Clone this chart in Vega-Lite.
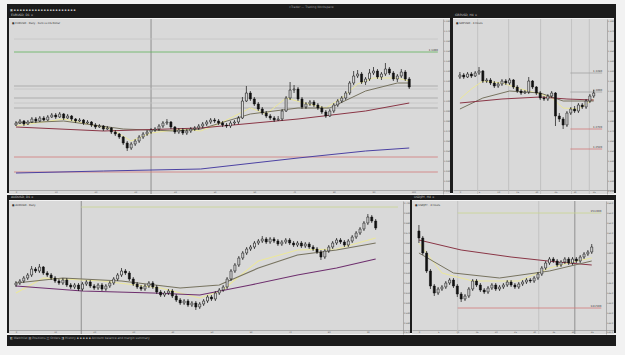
{
"$schema": "https://vega.github.io/schema/vega-lite/v6.json",
"background": "#f2f2f2",
"padding": {"left": 7, "top": 4, "right": 9, "bottom": 13},
"spacing": 0,
"config": {
  "font": "DejaVu Sans",
  "view": {"stroke": null},
  "legend": {"disable": true},
  "concat": {"spacing": 0},
  "axis": {"grid": false, "ticks": false, "labelFontSize": 2.2, "labelColor": "#555555", "domainColor": "#8c8c8c", "domainWidth": 0.6, "labelPadding": 0.5, "labelFlush": true},
  "axisX": {"offset": -4},
  "title": {"fontWeight": "normal"}
},
"datasets": {
  "c1": [
{"t":0,"o":1.076,"h":1.080,"l":1.075,"c":1.078},{"t":1,"o":1.078,"h":1.082,"l":1.077,"c":1.080},{"t":2,"o":1.080,"h":1.081,"l":1.075,"c":1.077},{"t":3,"o":1.077,"h":1.081,"l":1.076,"c":1.079},{"t":4,"o":1.079,"h":1.084,"l":1.078,"c":1.082},{"t":5,"o":1.082,"h":1.084,"l":1.078,"c":1.080},{"t":6,"o":1.080,"h":1.085,"l":1.079,"c":1.083},{"t":7,"o":1.083,"h":1.085,"l":1.080,"c":1.081},{"t":8,"o":1.081,"h":1.086,"l":1.080,"c":1.084},{"t":9,"o":1.084,"h":1.088,"l":1.083,"c":1.086},
{"t":10,"o":1.086,"h":1.088,"l":1.082,"c":1.084},{"t":11,"o":1.084,"h":1.089,"l":1.083,"c":1.087},{"t":12,"o":1.087,"h":1.088,"l":1.081,"c":1.083},{"t":13,"o":1.083,"h":1.087,"l":1.082,"c":1.085},{"t":14,"o":1.085,"h":1.086,"l":1.080,"c":1.082},{"t":15,"o":1.082,"h":1.083,"l":1.078,"c":1.080},{"t":16,"o":1.080,"h":1.083,"l":1.079,"c":1.081},{"t":17,"o":1.081,"h":1.082,"l":1.076,"c":1.078},{"t":18,"o":1.078,"h":1.081,"l":1.077,"c":1.079},{"t":19,"o":1.079,"h":1.080,"l":1.074,"c":1.076},
{"t":20,"o":1.076,"h":1.078,"l":1.072,"c":1.074},{"t":21,"o":1.074,"h":1.077,"l":1.073,"c":1.075},{"t":22,"o":1.075,"h":1.076,"l":1.070,"c":1.072},{"t":23,"o":1.072,"h":1.075,"l":1.071,"c":1.073},{"t":24,"o":1.073,"h":1.074,"l":1.067,"c":1.069},{"t":25,"o":1.069,"h":1.071,"l":1.065,"c":1.067},{"t":26,"o":1.067,"h":1.068,"l":1.062,"c":1.064},{"t":27,"o":1.064,"h":1.065,"l":1.056,"c":1.058},{"t":28,"o":1.058,"h":1.060,"l":1.050,"c":1.053},{"t":29,"o":1.053,"h":1.059,"l":1.051,"c":1.057},
{"t":30,"o":1.057,"h":1.062,"l":1.055,"c":1.060},{"t":31,"o":1.060,"h":1.066,"l":1.058,"c":1.064},{"t":32,"o":1.064,"h":1.069,"l":1.062,"c":1.067},{"t":33,"o":1.067,"h":1.071,"l":1.065,"c":1.069},{"t":34,"o":1.069,"h":1.073,"l":1.067,"c":1.071},{"t":35,"o":1.071,"h":1.074,"l":1.069,"c":1.072},{"t":36,"o":1.072,"h":1.077,"l":1.070,"c":1.075},{"t":37,"o":1.075,"h":1.080,"l":1.073,"c":1.078},{"t":38,"o":1.078,"h":1.082,"l":1.076,"c":1.079},{"t":39,"o":1.079,"h":1.080,"l":1.072,"c":1.074},
{"t":40,"o":1.074,"h":1.075,"l":1.067,"c":1.069},{"t":41,"o":1.069,"h":1.073,"l":1.067,"c":1.071},{"t":42,"o":1.071,"h":1.073,"l":1.066,"c":1.068},{"t":43,"o":1.068,"h":1.072,"l":1.066,"c":1.070},{"t":44,"o":1.070,"h":1.074,"l":1.068,"c":1.072},{"t":45,"o":1.072,"h":1.075,"l":1.070,"c":1.073},{"t":46,"o":1.073,"h":1.077,"l":1.071,"c":1.075},{"t":47,"o":1.075,"h":1.079,"l":1.073,"c":1.077},{"t":48,"o":1.077,"h":1.081,"l":1.075,"c":1.079},{"t":49,"o":1.079,"h":1.083,"l":1.077,"c":1.081},
{"t":50,"o":1.081,"h":1.083,"l":1.078,"c":1.080},{"t":51,"o":1.080,"h":1.082,"l":1.076,"c":1.078},{"t":52,"o":1.078,"h":1.080,"l":1.074,"c":1.076},{"t":53,"o":1.076,"h":1.078,"l":1.073,"c":1.075},{"t":54,"o":1.075,"h":1.080,"l":1.073,"c":1.078},{"t":55,"o":1.078,"h":1.081,"l":1.076,"c":1.079},{"t":56,"o":1.079,"h":1.085,"l":1.077,"c":1.083},{"t":57,"o":1.083,"h":1.104,"l":1.082,"c":1.100},{"t":58,"o":1.100,"h":1.115,"l":1.099,"c":1.108},{"t":59,"o":1.108,"h":1.110,"l":1.100,"c":1.102},
{"t":60,"o":1.102,"h":1.104,"l":1.095,"c":1.097},{"t":61,"o":1.097,"h":1.099,"l":1.090,"c":1.092},{"t":62,"o":1.092,"h":1.094,"l":1.086,"c":1.088},{"t":63,"o":1.088,"h":1.090,"l":1.083,"c":1.085},{"t":64,"o":1.085,"h":1.087,"l":1.081,"c":1.083},{"t":65,"o":1.083,"h":1.085,"l":1.079,"c":1.081},{"t":66,"o":1.081,"h":1.085,"l":1.080,"c":1.082},{"t":67,"o":1.082,"h":1.092,"l":1.080,"c":1.090},{"t":68,"o":1.090,"h":1.105,"l":1.089,"c":1.103},{"t":69,"o":1.103,"h":1.119,"l":1.101,"c":1.111},
{"t":70,"o":1.111,"h":1.116,"l":1.108,"c":1.112},{"t":71,"o":1.112,"h":1.114,"l":1.100,"c":1.102},{"t":72,"o":1.102,"h":1.104,"l":1.092,"c":1.094},{"t":73,"o":1.094,"h":1.099,"l":1.092,"c":1.097},{"t":74,"o":1.097,"h":1.101,"l":1.095,"c":1.099},{"t":75,"o":1.099,"h":1.101,"l":1.094,"c":1.096},{"t":76,"o":1.096,"h":1.098,"l":1.091,"c":1.093},{"t":77,"o":1.093,"h":1.095,"l":1.087,"c":1.089},{"t":78,"o":1.089,"h":1.091,"l":1.083,"c":1.085},{"t":79,"o":1.085,"h":1.092,"l":1.084,"c":1.090},
{"t":80,"o":1.090,"h":1.098,"l":1.088,"c":1.096},{"t":81,"o":1.096,"h":1.102,"l":1.094,"c":1.100},{"t":82,"o":1.100,"h":1.105,"l":1.098,"c":1.103},{"t":83,"o":1.103,"h":1.110,"l":1.101,"c":1.108},{"t":84,"o":1.108,"h":1.120,"l":1.106,"c":1.118},{"t":85,"o":1.118,"h":1.130,"l":1.116,"c":1.125},{"t":86,"o":1.125,"h":1.131,"l":1.123,"c":1.127},{"t":87,"o":1.127,"h":1.129,"l":1.117,"c":1.119},{"t":88,"o":1.119,"h":1.124,"l":1.116,"c":1.122},{"t":89,"o":1.122,"h":1.132,"l":1.120,"c":1.128},
{"t":90,"o":1.128,"h":1.134,"l":1.126,"c":1.130},{"t":91,"o":1.130,"h":1.132,"l":1.122,"c":1.124},{"t":92,"o":1.124,"h":1.129,"l":1.121,"c":1.127},{"t":93,"o":1.127,"h":1.138,"l":1.125,"c":1.132},{"t":94,"o":1.132,"h":1.134,"l":1.126,"c":1.128},{"t":95,"o":1.128,"h":1.130,"l":1.120,"c":1.122},{"t":96,"o":1.122,"h":1.127,"l":1.119,"c":1.125},{"t":97,"o":1.125,"h":1.132,"l":1.123,"c":1.129},{"t":98,"o":1.129,"h":1.131,"l":1.120,"c":1.122},{"t":99,"o":1.122,"h":1.124,"l":1.112,"c":1.114}
  ],
  "m1": [
{"t":0,"p":1.075,"ma":"fast"},{"t":12,"p":1.082,"ma":"fast"},{"t":24,"p":1.072,"ma":"fast"},{"t":29,"p":1.060,"ma":"fast"},{"t":34,"p":1.068,"ma":"fast"},{"t":42,"p":1.072,"ma":"fast"},{"t":46.5,"p":1.070,"ma":"fast"},{"t":51,"p":1.077,"ma":"fast"},{"t":59,"p":1.093,"ma":"fast"},{"t":63,"p":1.087,"ma":"fast"},{"t":68,"p":1.103,"ma":"fast"},{"t":73.5,"p":1.097,"ma":"fast"},{"t":78,"p":1.093,"ma":"fast"},{"t":82,"p":1.103,"ma":"fast"},{"t":86,"p":1.117,"ma":"fast"},{"t":90,"p":1.123,"ma":"fast"},{"t":96,"p":1.123,"ma":"fast"},{"t":99,"p":1.120,"ma":"fast"},
{"t":0,"p":1.078,"ma":"mid"},{"t":12,"p":1.080,"ma":"mid"},{"t":27,"p":1.072,"ma":"mid"},{"t":40,"p":1.070,"ma":"mid"},{"t":46.5,"p":1.072,"ma":"mid"},{"t":59,"p":1.087,"ma":"mid"},{"t":71,"p":1.093,"ma":"mid"},{"t":79,"p":1.093,"ma":"mid"},{"t":88,"p":1.110,"ma":"mid"},{"t":96,"p":1.118,"ma":"mid"},{"t":99,"p":1.118,"ma":"mid"},
{"t":0,"p":1.074,"ma":"slow"},{"t":22,"p":1.070,"ma":"slow"},{"t":46.5,"p":1.073,"ma":"slow"},{"t":71,"p":1.082,"ma":"slow"},{"t":88,"p":1.090,"ma":"slow"},{"t":99,"p":1.098,"ma":"slow"},
{"t":0,"p":1.028,"ma":"long"},{"t":22,"p":1.030,"ma":"long"},{"t":46.5,"p":1.032,"ma":"long"},{"t":71,"p":1.043,"ma":"long"},{"t":88,"p":1.050,"ma":"long"},{"t":99,"p":1.053,"ma":"long"}
  ],
  "h1": [
{"p":1.162,"a":-0.5,"b":106.2,"k":"light","lab":false},{"p":1.149,"a":-0.5,"b":106.2,"k":"green","lab":true},{"p":1.115,"a":-0.5,"b":106.2,"k":"level","lab":false},{"p":1.112,"a":-0.5,"b":106.2,"k":"light","lab":false},{"p":1.103,"a":-0.5,"b":106.2,"k":"level","lab":false},{"p":1.098,"a":-0.5,"b":106.2,"k":"light","lab":false},{"p":1.093,"a":-0.5,"b":106.2,"k":"level","lab":false},{"p":1.044,"a":-0.5,"b":106.2,"k":"red","lab":false},{"p":1.029,"a":-0.5,"b":106.2,"k":"red","lab":false}
  ],
  "v1": [{"t":34,"k":"vdark"}],
  "c2": [
{"t":0,"o":1.324,"h":1.329,"l":1.322,"c":1.326},{"t":1,"o":1.326,"h":1.328,"l":1.322,"c":1.324},{"t":2,"o":1.324,"h":1.329,"l":1.323,"c":1.327},{"t":3,"o":1.327,"h":1.329,"l":1.323,"c":1.325},{"t":4,"o":1.325,"h":1.330,"l":1.324,"c":1.328},{"t":5,"o":1.328,"h":1.334,"l":1.326,"c":1.330},{"t":6,"o":1.330,"h":1.331,"l":1.318,"c":1.320},{"t":7,"o":1.320,"h":1.323,"l":1.318,"c":1.321},{"t":8,"o":1.321,"h":1.323,"l":1.316,"c":1.318},{"t":9,"o":1.318,"h":1.320,"l":1.313,"c":1.315},
{"t":10,"o":1.315,"h":1.319,"l":1.313,"c":1.317},{"t":11,"o":1.317,"h":1.322,"l":1.315,"c":1.320},{"t":12,"o":1.320,"h":1.322,"l":1.316,"c":1.318},{"t":13,"o":1.318,"h":1.323,"l":1.316,"c":1.321},{"t":14,"o":1.321,"h":1.322,"l":1.312,"c":1.314},{"t":15,"o":1.314,"h":1.316,"l":1.308,"c":1.310},{"t":16,"o":1.310,"h":1.312,"l":1.306,"c":1.308},{"t":17,"o":1.308,"h":1.311,"l":1.307,"c":1.309},{"t":18,"o":1.309,"h":1.324,"l":1.307,"c":1.320},{"t":19,"o":1.320,"h":1.321,"l":1.312,"c":1.314},
{"t":20,"o":1.314,"h":1.315,"l":1.306,"c":1.308},{"t":21,"o":1.308,"h":1.310,"l":1.301,"c":1.303},{"t":22,"o":1.303,"h":1.305,"l":1.300,"c":1.302},{"t":23,"o":1.302,"h":1.307,"l":1.300,"c":1.305},{"t":24,"o":1.305,"h":1.310,"l":1.303,"c":1.308},{"t":25,"o":1.308,"h":1.309,"l":1.275,"c":1.285},{"t":26,"o":1.285,"h":1.288,"l":1.279,"c":1.282},{"t":27,"o":1.282,"h":1.284,"l":1.272,"c":1.276},{"t":28,"o":1.276,"h":1.290,"l":1.274,"c":1.288},{"t":29,"o":1.288,"h":1.294,"l":1.286,"c":1.292},
{"t":30,"o":1.292,"h":1.295,"l":1.288,"c":1.290},{"t":31,"o":1.290,"h":1.298,"l":1.288,"c":1.296},{"t":32,"o":1.296,"h":1.298,"l":1.292,"c":1.294},{"t":33,"o":1.294,"h":1.302,"l":1.292,"c":1.300},{"t":34,"o":1.300,"h":1.307,"l":1.298,"c":1.305},{"t":35,"o":1.305,"h":1.311,"l":1.303,"c":1.308}
  ],
  "m2": [
{"t":0,"p":1.302,"ma":"fast"},{"t":3,"p":1.312,"ma":"fast"},{"t":6,"p":1.320,"ma":"fast"},{"t":11,"p":1.318,"ma":"fast"},{"t":16,"p":1.312,"ma":"fast"},{"t":21,"p":1.307,"ma":"fast"},{"t":24,"p":1.303,"ma":"fast"},{"t":27,"p":1.293,"ma":"fast"},{"t":31,"p":1.292,"ma":"fast"},{"t":35,"p":1.302,"ma":"fast"},
{"t":0,"p":1.292,"ma":"mid"},{"t":6,"p":1.303,"ma":"mid"},{"t":13,"p":1.310,"ma":"mid"},{"t":21,"p":1.308,"ma":"mid"},{"t":27,"p":1.300,"ma":"mid"},{"t":35,"p":1.300,"ma":"mid"},
{"t":0,"p":1.298,"ma":"slow"},{"t":11,"p":1.302,"ma":"slow"},{"t":21,"p":1.304,"ma":"slow"},{"t":28,"p":1.302,"ma":"slow"},{"t":35,"p":1.301,"ma":"slow"}
  ],
  "h2": [
{"p":1.328,"a":28.9,"b":37.2,"k":"level","lab":true},{"p":1.309,"a":28.9,"b":37.2,"k":"level","lab":true},{"p":1.272,"a":28.9,"b":37.2,"k":"red","lab":true},{"p":1.252,"a":28.9,"b":37.2,"k":"red","lab":true}
  ],
  "v2": [{"t":4.65,"k":"vlight"},{"t":12.75,"k":"vlight"},{"t":21.1,"k":"vlight"},{"t":29.2,"k":"vlight"},{"t":33.85,"k":"vlight"}],
  "c3": [
{"t":0,"o":0.618,"h":0.622,"l":0.616,"c":0.620},{"t":1,"o":0.620,"h":0.624,"l":0.618,"c":0.622},{"t":2,"o":0.622,"h":0.627,"l":0.620,"c":0.625},{"t":3,"o":0.625,"h":0.630,"l":0.623,"c":0.628},{"t":4,"o":0.628,"h":0.637,"l":0.626,"c":0.634},{"t":5,"o":0.634,"h":0.636,"l":0.630,"c":0.632},{"t":6,"o":0.632,"h":0.639,"l":0.630,"c":0.636},{"t":7,"o":0.636,"h":0.637,"l":0.628,"c":0.630},{"t":8,"o":0.630,"h":0.632,"l":0.626,"c":0.628},{"t":9,"o":0.628,"h":0.630,"l":0.623,"c":0.625},
{"t":10,"o":0.625,"h":0.627,"l":0.620,"c":0.622},{"t":11,"o":0.622,"h":0.624,"l":0.618,"c":0.620},{"t":12,"o":0.620,"h":0.625,"l":0.618,"c":0.623},{"t":13,"o":0.623,"h":0.625,"l":0.616,"c":0.618},{"t":14,"o":0.618,"h":0.620,"l":0.614,"c":0.616},{"t":15,"o":0.616,"h":0.620,"l":0.614,"c":0.618},{"t":16,"o":0.618,"h":0.620,"l":0.612,"c":0.614},{"t":17,"o":0.614,"h":0.621,"l":0.612,"c":0.619},{"t":18,"o":0.619,"h":0.623,"l":0.617,"c":0.621},{"t":19,"o":0.621,"h":0.623,"l":0.615,"c":0.617},
{"t":20,"o":0.617,"h":0.619,"l":0.613,"c":0.615},{"t":21,"o":0.615,"h":0.620,"l":0.613,"c":0.618},{"t":22,"o":0.618,"h":0.620,"l":0.612,"c":0.614},{"t":23,"o":0.614,"h":0.619,"l":0.612,"c":0.617},{"t":24,"o":0.617,"h":0.622,"l":0.615,"c":0.620},{"t":25,"o":0.620,"h":0.626,"l":0.618,"c":0.624},{"t":26,"o":0.624,"h":0.630,"l":0.622,"c":0.628},{"t":27,"o":0.628,"h":0.635,"l":0.626,"c":0.632},{"t":28,"o":0.632,"h":0.634,"l":0.628,"c":0.630},{"t":29,"o":0.630,"h":0.632,"l":0.622,"c":0.624},
{"t":30,"o":0.624,"h":0.626,"l":0.617,"c":0.619},{"t":31,"o":0.619,"h":0.621,"l":0.614,"c":0.616},{"t":32,"o":0.616,"h":0.618,"l":0.612,"c":0.614},{"t":33,"o":0.614,"h":0.619,"l":0.612,"c":0.617},{"t":34,"o":0.617,"h":0.622,"l":0.615,"c":0.620},{"t":35,"o":0.620,"h":0.622,"l":0.614,"c":0.616},{"t":36,"o":0.616,"h":0.618,"l":0.609,"c":0.611},{"t":37,"o":0.611,"h":0.613,"l":0.606,"c":0.608},{"t":38,"o":0.608,"h":0.612,"l":0.606,"c":0.610},{"t":39,"o":0.610,"h":0.614,"l":0.608,"c":0.612},
{"t":40,"o":0.612,"h":0.614,"l":0.605,"c":0.607},{"t":41,"o":0.607,"h":0.609,"l":0.601,"c":0.603},{"t":42,"o":0.603,"h":0.605,"l":0.598,"c":0.600},{"t":43,"o":0.600,"h":0.604,"l":0.598,"c":0.602},{"t":44,"o":0.602,"h":0.604,"l":0.596,"c":0.598},{"t":45,"o":0.598,"h":0.602,"l":0.596,"c":0.600},{"t":46,"o":0.600,"h":0.602,"l":0.593,"c":0.596},{"t":47,"o":0.596,"h":0.601,"l":0.594,"c":0.599},{"t":48,"o":0.599,"h":0.604,"l":0.597,"c":0.602},{"t":49,"o":0.602,"h":0.608,"l":0.600,"c":0.606},
{"t":50,"o":0.606,"h":0.608,"l":0.602,"c":0.604},{"t":51,"o":0.604,"h":0.612,"l":0.602,"c":0.610},{"t":52,"o":0.610,"h":0.615,"l":0.608,"c":0.613},{"t":53,"o":0.613,"h":0.618,"l":0.611,"c":0.616},{"t":54,"o":0.616,"h":0.626,"l":0.614,"c":0.624},{"t":55,"o":0.624,"h":0.634,"l":0.622,"c":0.632},{"t":56,"o":0.632,"h":0.640,"l":0.630,"c":0.638},{"t":57,"o":0.638,"h":0.647,"l":0.636,"c":0.645},{"t":58,"o":0.645,"h":0.652,"l":0.643,"c":0.650},{"t":59,"o":0.650,"h":0.656,"l":0.648,"c":0.654},
{"t":60,"o":0.654,"h":0.658,"l":0.652,"c":0.656},{"t":61,"o":0.656,"h":0.662,"l":0.654,"c":0.660},{"t":62,"o":0.660,"h":0.664,"l":0.658,"c":0.662},{"t":63,"o":0.662,"h":0.667,"l":0.660,"c":0.664},{"t":64,"o":0.664,"h":0.666,"l":0.659,"c":0.661},{"t":65,"o":0.661,"h":0.666,"l":0.659,"c":0.664},{"t":66,"o":0.664,"h":0.666,"l":0.660,"c":0.662},{"t":67,"o":0.662,"h":0.664,"l":0.657,"c":0.659},{"t":68,"o":0.659,"h":0.663,"l":0.657,"c":0.661},{"t":69,"o":0.661,"h":0.665,"l":0.659,"c":0.663},
{"t":70,"o":0.663,"h":0.665,"l":0.658,"c":0.660},{"t":71,"o":0.660,"h":0.662,"l":0.656,"c":0.658},{"t":72,"o":0.658,"h":0.662,"l":0.656,"c":0.660},{"t":73,"o":0.660,"h":0.662,"l":0.655,"c":0.657},{"t":74,"o":0.657,"h":0.661,"l":0.655,"c":0.659},{"t":75,"o":0.659,"h":0.661,"l":0.654,"c":0.656},{"t":76,"o":0.656,"h":0.658,"l":0.652,"c":0.654},{"t":77,"o":0.654,"h":0.656,"l":0.649,"c":0.651},{"t":78,"o":0.651,"h":0.653,"l":0.643,"c":0.646},{"t":79,"o":0.646,"h":0.654,"l":0.644,"c":0.652},
{"t":80,"o":0.652,"h":0.658,"l":0.650,"c":0.656},{"t":81,"o":0.656,"h":0.662,"l":0.654,"c":0.660},{"t":82,"o":0.660,"h":0.665,"l":0.658,"c":0.663},{"t":83,"o":0.663,"h":0.665,"l":0.659,"c":0.661},{"t":84,"o":0.661,"h":0.663,"l":0.656,"c":0.658},{"t":85,"o":0.658,"h":0.664,"l":0.656,"c":0.662},{"t":86,"o":0.662,"h":0.668,"l":0.660,"c":0.666},{"t":87,"o":0.666,"h":0.672,"l":0.664,"c":0.670},{"t":88,"o":0.670,"h":0.676,"l":0.668,"c":0.674},{"t":89,"o":0.674,"h":0.682,"l":0.672,"c":0.680},
{"t":90,"o":0.680,"h":0.689,"l":0.678,"c":0.686},{"t":91,"o":0.686,"h":0.688,"l":0.680,"c":0.682},{"t":92,"o":0.682,"h":0.684,"l":0.673,"c":0.675}
  ],
  "m3": [
{"t":0,"p":0.610,"ma":"fast"},{"t":7,"p":0.625,"ma":"fast"},{"t":22,"p":0.622,"ma":"fast"},{"t":37,"p":0.615,"ma":"fast"},{"t":47,"p":0.605,"ma":"fast"},{"t":53,"p":0.613,"ma":"fast"},{"t":55,"p":0.620,"ma":"fast"},{"t":62,"p":0.642,"ma":"fast"},{"t":72,"p":0.653,"ma":"fast"},{"t":82,"p":0.654,"ma":"fast"},{"t":92,"p":0.665,"ma":"fast"},
{"t":0,"p":0.620,"ma":"mid"},{"t":12,"p":0.625,"ma":"mid"},{"t":27,"p":0.622,"ma":"mid"},{"t":42,"p":0.615,"ma":"mid"},{"t":52,"p":0.618,"ma":"mid"},{"t":62,"p":0.635,"ma":"mid"},{"t":72,"p":0.648,"ma":"mid"},{"t":82,"p":0.653,"ma":"mid"},{"t":92,"p":0.660,"ma":"mid"},
{"t":0,"p":0.617,"ma":"plum"},{"t":17,"p":0.612,"ma":"plum"},{"t":35,"p":0.610,"ma":"plum"},{"t":47,"p":0.608,"ma":"plum"},{"t":60,"p":0.618,"ma":"plum"},{"t":72,"p":0.628,"ma":"plum"},{"t":82,"p":0.635,"ma":"plum"},{"t":92,"p":0.644,"ma":"plum"}
  ],
  "h3": [{"p":0.696,"a":16.7,"b":97.7,"k":"lime","lab":false}],
  "v3": [{"t":16.7,"k":"vdark"}],
  "c4": [
{"t":0,"o":151.2,"h":151.8,"l":150.0,"c":150.5},{"t":1,"o":150.5,"h":150.7,"l":148.8,"c":149.0},{"t":2,"o":149.0,"h":149.2,"l":147.0,"c":147.2},{"t":3,"o":147.2,"h":147.4,"l":145.4,"c":145.7},{"t":4,"o":145.7,"h":145.9,"l":144.7,"c":145.0},{"t":5,"o":145.0,"h":145.6,"l":144.8,"c":145.4},{"t":6,"o":145.4,"h":145.8,"l":145.2,"c":145.6},{"t":7,"o":145.6,"h":146.2,"l":145.4,"c":146.0},{"t":8,"o":146.0,"h":146.5,"l":145.8,"c":146.3},{"t":9,"o":146.3,"h":146.5,"l":145.5,"c":145.7},
{"t":10,"o":145.7,"h":145.9,"l":144.6,"c":144.9},{"t":11,"o":144.9,"h":145.1,"l":144.1,"c":144.4},{"t":12,"o":144.4,"h":144.9,"l":144.2,"c":144.7},{"t":13,"o":144.7,"h":145.6,"l":144.5,"c":145.4},{"t":14,"o":145.4,"h":146.4,"l":145.2,"c":146.2},{"t":15,"o":146.2,"h":146.4,"l":145.6,"c":145.8},{"t":16,"o":145.8,"h":146.0,"l":145.1,"c":145.3},{"t":17,"o":145.3,"h":145.5,"l":144.9,"c":145.1},{"t":18,"o":145.1,"h":145.7,"l":144.9,"c":145.5},{"t":19,"o":145.5,"h":146.0,"l":145.3,"c":145.8},
{"t":20,"o":145.8,"h":146.0,"l":145.2,"c":145.4},{"t":21,"o":145.4,"h":145.8,"l":145.2,"c":145.6},{"t":22,"o":145.6,"h":146.0,"l":145.4,"c":145.8},{"t":23,"o":145.8,"h":146.3,"l":145.6,"c":146.1},{"t":24,"o":146.1,"h":146.3,"l":145.6,"c":145.8},{"t":25,"o":145.8,"h":146.0,"l":145.4,"c":145.6},{"t":26,"o":145.6,"h":146.1,"l":145.4,"c":145.9},{"t":27,"o":145.9,"h":146.3,"l":145.7,"c":146.1},{"t":28,"o":146.1,"h":146.5,"l":145.9,"c":146.3},{"t":29,"o":146.3,"h":146.5,"l":146.0,"c":146.2},
{"t":30,"o":146.2,"h":146.7,"l":146.0,"c":146.5},{"t":31,"o":146.5,"h":147.1,"l":146.3,"c":146.9},{"t":32,"o":146.9,"h":147.7,"l":146.7,"c":147.5},{"t":33,"o":147.5,"h":148.2,"l":147.3,"c":148.0},{"t":34,"o":148.0,"h":148.6,"l":147.8,"c":148.4},{"t":35,"o":148.4,"h":148.6,"l":148.0,"c":148.2},{"t":36,"o":148.2,"h":148.4,"l":147.6,"c":147.8},{"t":37,"o":147.8,"h":148.3,"l":147.6,"c":148.1},{"t":38,"o":148.1,"h":148.6,"l":147.9,"c":148.4},{"t":39,"o":148.4,"h":148.6,"l":147.8,"c":148.0},
{"t":40,"o":148.0,"h":148.6,"l":147.8,"c":148.4},{"t":41,"o":148.4,"h":148.6,"l":148.0,"c":148.2},{"t":42,"o":148.2,"h":148.8,"l":148.0,"c":148.6},{"t":43,"o":148.6,"h":149.1,"l":148.4,"c":148.9},{"t":44,"o":148.9,"h":149.3,"l":148.7,"c":149.1},{"t":45,"o":149.1,"h":149.9,"l":148.9,"c":149.6}
  ],
  "m4": [
{"t":0,"p":150.3,"ma":"slow"},{"t":11,"p":149.3,"ma":"slow"},{"t":24,"p":148.6,"ma":"slow"},{"t":36,"p":148.1,"ma":"slow"},{"t":45,"p":147.8,"ma":"slow"},
{"t":0,"p":150.0,"ma":"fast"},{"t":6,"p":147.0,"ma":"fast"},{"t":14,"p":146.2,"ma":"fast"},{"t":26,"p":146.2,"ma":"fast"},{"t":34,"p":147.5,"ma":"fast"},{"t":41,"p":148.2,"ma":"fast"},{"t":45,"p":148.5,"ma":"fast"},
{"t":0,"p":149.0,"ma":"mid"},{"t":9,"p":147.0,"ma":"mid"},{"t":21,"p":146.5,"ma":"mid"},{"t":34,"p":147.2,"ma":"mid"},{"t":45,"p":148.2,"ma":"mid"}
  ],
  "h4": [{"p":153.0,"a":10.1,"b":47.5,"k":"lime","lab":true},{"p":143.5,"a":10.1,"b":47.5,"k":"red","lab":true}],
  "v4": [{"t":10.1,"k":"vlight"},{"t":31.2,"k":"vlight"},{"t":40.6,"k":"vdark"}],
  "blank": [{"s":""}],
  "topt": [{"s":"cTrader — Trading Workspace"}]
},
"vconcat": [
  {"width": 609, "height": 10, "view": {"fill": "#1c1c1c", "stroke": null},
   "title": {"text": "▣ ▪ ▪ ▪ ▪ ▪ ▪ ▪  ▪ ▪ ▪ ▪ ▪ ▪  ▪ ▪ ▪ ▪ ▪ ▪ ▪ ▪", "orient": "bottom", "anchor": "start", "frame": "group", "offset": -5, "baseline": "top", "fontSize": 3, "color": "#c8c8c8", "dx": 3},
   "data": {"name": "topt"}, "mark": {"type": "text", "fontSize": 3, "color": "#9a9a9a", "dy": -2},
   "encoding": {"text": {"field": "s"}}},
  {"hconcat": [
    {"width": 2, "height": 179, "view": {"fill": "#1c1c1c", "stroke": null}, "data": {"name": "blank"}, "mark": {"type": "text", "fontSize": 1}, "encoding": {"text": {"field": "s"}}},
    {"vconcat": [
      {"width": 441, "height": 4, "view": {"fill": "#1c1c1c", "stroke": null},
       "title": {"text": "EURUSD, D1   ×", "orient": "bottom", "anchor": "start", "frame": "group", "offset": -4, "baseline": "top", "fontSize": 3, "color": "#cfcfcf", "dx": 2},
       "data": {"name": "blank"}, "mark": {"type": "text", "fontSize": 1}, "encoding": {"text": {"field": "s"}}},
      {"width": 441, "height": 175, "view": {"fill": "#d9d9d9", "stroke": null},
       "title": {"text": "■ EURUSD · Daily · Euro vs US Dollar", "orient": "top", "anchor": "start", "frame": "group", "offset": -6, "fontSize": 2.6, "color": "#333333", "dx": 3},
       "layer": [
        {"data": {"name": "v1"}, "mark": {"type": "rule", "strokeWidth": 0.8},
         "encoding": {"x": {"field": "t", "type": "quantitative", "scale": {"domain": [-0.5, 108], "nice": false, "zero": false}, "axis": {"orient": "bottom", "title": null, "values": [0,10,20,30,40,50,60,70,80,90,100], "format": "d"}},
                      "color": {"field": "k", "type": "nominal", "scale": {"domain": ["fast","mid","slow","long","green","level","light","red","vdark","vlight","lime","plum"], "range": ["#ebe79b","#77735f","#8a3646","#4c42a3","#5fb25c","#a2a2a2","#c4c4c4","#d27a7a","#7c7c7c","#bcbcbc","#c9d68f","#6e2f6e"]}}}},
        {"data": {"name": "h1"}, "mark": {"type": "rule", "strokeWidth": 0.8},
         "encoding": {"x": {"field": "a", "type": "quantitative", "scale": {"domain": [-0.5, 108], "nice": false, "zero": false}, "axis": {"orient": "bottom", "title": null, "values": [0,10,20,30,40,50,60,70,80,90,100], "format": "d"}}, "x2": {"field": "b"},
                      "y": {"field": "p", "type": "quantitative", "scale": {"domain": [1.007, 1.182], "nice": false, "zero": false}, "axis": {"orient": "right", "offset": -7, "title": null, "tickCount": 22, "format": ".3f"}},
                      "color": {"field": "k", "type": "nominal", "scale": {"domain": ["fast","mid","slow","long","green","level","light","red","vdark","vlight","lime","plum"], "range": ["#ebe79b","#77735f","#8a3646","#4c42a3","#5fb25c","#a2a2a2","#c4c4c4","#d27a7a","#7c7c7c","#bcbcbc","#c9d68f","#6e2f6e"]}}}},
        {"data": {"name": "h1"}, "transform": [{"filter": "datum.lab"}], "mark": {"type": "text", "align": "right", "baseline": "bottom", "fontSize": 2.6, "color": "#333333"},
         "encoding": {"x": {"field": "b", "type": "quantitative", "scale": {"domain": [-0.5, 108], "nice": false, "zero": false}, "axis": {"orient": "bottom", "title": null, "values": [0,10,20,30,40,50,60,70,80,90,100], "format": "d"}},
                      "y": {"field": "p", "type": "quantitative", "scale": {"domain": [1.007, 1.182], "nice": false, "zero": false}, "axis": {"orient": "right", "offset": -7, "title": null, "tickCount": 22, "format": ".3f"}},
                      "text": {"field": "p", "type": "quantitative", "format": ".4f"}}},
        {"data": {"name": "m1"}, "mark": {"type": "line", "strokeWidth": 1, "clip": true},
         "encoding": {"x": {"field": "t", "type": "quantitative", "scale": {"domain": [-0.5, 108], "nice": false, "zero": false}, "axis": {"orient": "bottom", "title": null, "values": [0,10,20,30,40,50,60,70,80,90,100], "format": "d"}},
                      "y": {"field": "p", "type": "quantitative", "scale": {"domain": [1.007, 1.182], "nice": false, "zero": false}, "axis": {"orient": "right", "offset": -7, "title": null, "tickCount": 22, "format": ".3f"}},
                      "color": {"field": "ma", "type": "nominal", "scale": {"domain": ["fast","mid","slow","long","green","level","light","red","vdark","vlight","lime","plum"], "range": ["#ebe79b","#77735f","#8a3646","#4c42a3","#5fb25c","#a2a2a2","#c4c4c4","#d27a7a","#7c7c7c","#bcbcbc","#c9d68f","#6e2f6e"]}}}},
        {"data": {"name": "c1"}, "mark": {"type": "rule", "color": "#111111", "strokeWidth": 0.7},
         "encoding": {"x": {"field": "t", "type": "quantitative", "scale": {"domain": [-0.5, 108], "nice": false, "zero": false}, "axis": {"orient": "bottom", "title": null, "values": [0,10,20,30,40,50,60,70,80,90,100], "format": "d"}},
                      "y": {"field": "l", "type": "quantitative", "scale": {"domain": [1.007, 1.182], "nice": false, "zero": false}, "axis": {"orient": "right", "offset": -7, "title": null, "tickCount": 22, "format": ".3f"}}, "y2": {"field": "h"}}},
        {"data": {"name": "c1"}, "mark": {"type": "bar", "width": 2, "stroke": "#111111", "strokeWidth": 0.6},
         "encoding": {"x": {"field": "t", "type": "quantitative", "scale": {"domain": [-0.5, 108], "nice": false, "zero": false}, "axis": {"orient": "bottom", "title": null, "values": [0,10,20,30,40,50,60,70,80,90,100], "format": "d"}},
                      "y": {"field": "o", "type": "quantitative", "scale": {"domain": [1.007, 1.182], "nice": false, "zero": false}, "axis": {"orient": "right", "offset": -7, "title": null, "tickCount": 22, "format": ".3f"}}, "y2": {"field": "c"},
                      "fill": {"condition": {"test": "datum.c < datum.o", "value": "#111111"}, "value": "#e6e6e6"}}}
       ]}
    ], "spacing": 0},
    {"width": 3, "height": 179, "view": {"fill": "#1c1c1c", "stroke": null}, "data": {"name": "blank"}, "mark": {"type": "text", "fontSize": 1}, "encoding": {"text": {"field": "s"}}},
    {"vconcat": [
      {"width": 161, "height": 4, "view": {"fill": "#1c1c1c", "stroke": null},
       "title": {"text": "GBPUSD, H4   ×", "orient": "bottom", "anchor": "start", "frame": "group", "offset": -4, "baseline": "top", "fontSize": 3, "color": "#cfcfcf", "dx": 2},
       "data": {"name": "blank"}, "mark": {"type": "text", "fontSize": 1}, "encoding": {"text": {"field": "s"}}},
      {"width": 161, "height": 175, "view": {"fill": "#d9d9d9", "stroke": null},
       "title": {"text": "■ GBPUSD · 4 Hours", "orient": "top", "anchor": "start", "frame": "group", "offset": -6, "fontSize": 2.6, "color": "#333333", "dx": 3},
       "layer": [
        {"data": {"name": "v2"}, "mark": {"type": "rule", "strokeWidth": 0.8},
         "encoding": {"x": {"field": "t", "type": "quantitative", "scale": {"domain": [-0.5, 39], "nice": false, "zero": false}, "axis": {"orient": "bottom", "title": null, "values": [0,5,10,15,20,25,30,35], "format": "d"}},
                      "color": {"field": "k", "type": "nominal", "scale": {"domain": ["fast","mid","slow","long","green","level","light","red","vdark","vlight","lime","plum"], "range": ["#ebe79b","#77735f","#8a3646","#4c42a3","#5fb25c","#a2a2a2","#c4c4c4","#d27a7a","#7c7c7c","#bcbcbc","#c9d68f","#6e2f6e"]}}}},
        {"data": {"name": "h2"}, "mark": {"type": "rule", "strokeWidth": 0.8},
         "encoding": {"x": {"field": "a", "type": "quantitative", "scale": {"domain": [-0.5, 39], "nice": false, "zero": false}, "axis": {"orient": "bottom", "title": null, "values": [0,5,10,15,20,25,30,35], "format": "d"}}, "x2": {"field": "b"},
                      "y": {"field": "p", "type": "quantitative", "scale": {"domain": [1.207, 1.382], "nice": false, "zero": false}, "axis": {"orient": "right", "offset": -7, "title": null, "tickCount": 22, "format": ".3f"}},
                      "color": {"field": "k", "type": "nominal", "scale": {"domain": ["fast","mid","slow","long","green","level","light","red","vdark","vlight","lime","plum"], "range": ["#ebe79b","#77735f","#8a3646","#4c42a3","#5fb25c","#a2a2a2","#c4c4c4","#d27a7a","#7c7c7c","#bcbcbc","#c9d68f","#6e2f6e"]}}}},
        {"data": {"name": "h2"}, "transform": [{"filter": "datum.lab"}], "mark": {"type": "text", "align": "right", "baseline": "bottom", "fontSize": 2.6, "color": "#333333"},
         "encoding": {"x": {"field": "b", "type": "quantitative", "scale": {"domain": [-0.5, 39], "nice": false, "zero": false}, "axis": {"orient": "bottom", "title": null, "values": [0,5,10,15,20,25,30,35], "format": "d"}},
                      "y": {"field": "p", "type": "quantitative", "scale": {"domain": [1.207, 1.382], "nice": false, "zero": false}, "axis": {"orient": "right", "offset": -7, "title": null, "tickCount": 22, "format": ".3f"}},
                      "text": {"field": "p", "type": "quantitative", "format": ".4f"}}},
        {"data": {"name": "m2"}, "mark": {"type": "line", "strokeWidth": 1, "clip": true},
         "encoding": {"x": {"field": "t", "type": "quantitative", "scale": {"domain": [-0.5, 39], "nice": false, "zero": false}, "axis": {"orient": "bottom", "title": null, "values": [0,5,10,15,20,25,30,35], "format": "d"}},
                      "y": {"field": "p", "type": "quantitative", "scale": {"domain": [1.207, 1.382], "nice": false, "zero": false}, "axis": {"orient": "right", "offset": -7, "title": null, "tickCount": 22, "format": ".3f"}},
                      "color": {"field": "ma", "type": "nominal", "scale": {"domain": ["fast","mid","slow","long","green","level","light","red","vdark","vlight","lime","plum"], "range": ["#ebe79b","#77735f","#8a3646","#4c42a3","#5fb25c","#a2a2a2","#c4c4c4","#d27a7a","#7c7c7c","#bcbcbc","#c9d68f","#6e2f6e"]}}}},
        {"data": {"name": "c2"}, "mark": {"type": "rule", "color": "#111111", "strokeWidth": 0.7},
         "encoding": {"x": {"field": "t", "type": "quantitative", "scale": {"domain": [-0.5, 39], "nice": false, "zero": false}, "axis": {"orient": "bottom", "title": null, "values": [0,5,10,15,20,25,30,35], "format": "d"}},
                      "y": {"field": "l", "type": "quantitative", "scale": {"domain": [1.207, 1.382], "nice": false, "zero": false}, "axis": {"orient": "right", "offset": -7, "title": null, "tickCount": 22, "format": ".3f"}}, "y2": {"field": "h"}}},
        {"data": {"name": "c2"}, "mark": {"type": "bar", "width": 2, "stroke": "#111111", "strokeWidth": 0.6},
         "encoding": {"x": {"field": "t", "type": "quantitative", "scale": {"domain": [-0.5, 39], "nice": false, "zero": false}, "axis": {"orient": "bottom", "title": null, "values": [0,5,10,15,20,25,30,35], "format": "d"}},
                      "y": {"field": "o", "type": "quantitative", "scale": {"domain": [1.207, 1.382], "nice": false, "zero": false}, "axis": {"orient": "right", "offset": -7, "title": null, "tickCount": 22, "format": ".3f"}}, "y2": {"field": "c"},
                      "fill": {"condition": {"test": "datum.c < datum.o", "value": "#111111"}, "value": "#e6e6e6"}}}
       ]}
    ], "spacing": 0},
    {"width": 2, "height": 179, "view": {"fill": "#1c1c1c", "stroke": null}, "data": {"name": "blank"}, "mark": {"type": "text", "fontSize": 1}, "encoding": {"text": {"field": "s"}}}
  ], "spacing": 0},
  {"hconcat": [
    {"width": 2, "height": 138, "view": {"fill": "#1c1c1c", "stroke": null}, "data": {"name": "blank"}, "mark": {"type": "text", "fontSize": 1}, "encoding": {"text": {"field": "s"}}},
    {"vconcat": [
      {"width": 401, "height": 5, "view": {"fill": "#1c1c1c", "stroke": null},
       "title": {"text": "AUDUSD, D1   ×", "orient": "bottom", "anchor": "start", "frame": "group", "offset": -4.5, "baseline": "top", "fontSize": 3, "color": "#cfcfcf", "dx": 2},
       "data": {"name": "blank"}, "mark": {"type": "text", "fontSize": 1}, "encoding": {"text": {"field": "s"}}},
      {"width": 401, "height": 133, "view": {"fill": "#d9d9d9", "stroke": null},
       "title": {"text": "■ AUDUSD · Daily", "orient": "top", "anchor": "start", "frame": "group", "offset": -6, "fontSize": 2.6, "color": "#333333", "dx": 3},
       "layer": [
        {"data": {"name": "v3"}, "mark": {"type": "rule", "strokeWidth": 0.8},
         "encoding": {"x": {"field": "t", "type": "quantitative", "scale": {"domain": [-0.5, 99.5], "nice": false, "zero": false}, "axis": {"orient": "bottom", "title": null, "values": [0,10,20,30,40,50,60,70,80,90], "format": "d"}},
                      "color": {"field": "k", "type": "nominal", "scale": {"domain": ["fast","mid","slow","long","green","level","light","red","vdark","vlight","lime","plum"], "range": ["#ebe79b","#77735f","#8a3646","#4c42a3","#5fb25c","#a2a2a2","#c4c4c4","#d27a7a","#7c7c7c","#bcbcbc","#c9d68f","#6e2f6e"]}}}},
        {"data": {"name": "h3"}, "mark": {"type": "rule", "strokeWidth": 0.8},
         "encoding": {"x": {"field": "a", "type": "quantitative", "scale": {"domain": [-0.5, 99.5], "nice": false, "zero": false}, "axis": {"orient": "bottom", "title": null, "values": [0,10,20,30,40,50,60,70,80,90], "format": "d"}}, "x2": {"field": "b"},
                      "y": {"field": "p", "type": "quantitative", "scale": {"domain": [0.569, 0.702], "nice": false, "zero": false}, "axis": {"orient": "right", "offset": -7, "title": null, "tickCount": 16, "format": ".3f"}},
                      "color": {"field": "k", "type": "nominal", "scale": {"domain": ["fast","mid","slow","long","green","level","light","red","vdark","vlight","lime","plum"], "range": ["#ebe79b","#77735f","#8a3646","#4c42a3","#5fb25c","#a2a2a2","#c4c4c4","#d27a7a","#7c7c7c","#bcbcbc","#c9d68f","#6e2f6e"]}}}},
        {"data": {"name": "m3"}, "mark": {"type": "line", "strokeWidth": 1.1, "clip": true},
         "encoding": {"x": {"field": "t", "type": "quantitative", "scale": {"domain": [-0.5, 99.5], "nice": false, "zero": false}, "axis": {"orient": "bottom", "title": null, "values": [0,10,20,30,40,50,60,70,80,90], "format": "d"}},
                      "y": {"field": "p", "type": "quantitative", "scale": {"domain": [0.569, 0.702], "nice": false, "zero": false}, "axis": {"orient": "right", "offset": -7, "title": null, "tickCount": 16, "format": ".3f"}},
                      "color": {"field": "ma", "type": "nominal", "scale": {"domain": ["fast","mid","slow","long","green","level","light","red","vdark","vlight","lime","plum"], "range": ["#ebe79b","#77735f","#8a3646","#4c42a3","#5fb25c","#a2a2a2","#c4c4c4","#d27a7a","#7c7c7c","#bcbcbc","#c9d68f","#6e2f6e"]}}}},
        {"data": {"name": "c3"}, "mark": {"type": "rule", "color": "#111111", "strokeWidth": 0.7},
         "encoding": {"x": {"field": "t", "type": "quantitative", "scale": {"domain": [-0.5, 99.5], "nice": false, "zero": false}, "axis": {"orient": "bottom", "title": null, "values": [0,10,20,30,40,50,60,70,80,90], "format": "d"}},
                      "y": {"field": "l", "type": "quantitative", "scale": {"domain": [0.569, 0.702], "nice": false, "zero": false}, "axis": {"orient": "right", "offset": -7, "title": null, "tickCount": 16, "format": ".3f"}}, "y2": {"field": "h"}}},
        {"data": {"name": "c3"}, "mark": {"type": "bar", "width": 2, "stroke": "#111111", "strokeWidth": 0.6},
         "encoding": {"x": {"field": "t", "type": "quantitative", "scale": {"domain": [-0.5, 99.5], "nice": false, "zero": false}, "axis": {"orient": "bottom", "title": null, "values": [0,10,20,30,40,50,60,70,80,90], "format": "d"}},
                      "y": {"field": "o", "type": "quantitative", "scale": {"domain": [0.569, 0.702], "nice": false, "zero": false}, "axis": {"orient": "right", "offset": -7, "title": null, "tickCount": 16, "format": ".3f"}}, "y2": {"field": "c"},
                      "fill": {"condition": {"test": "datum.c < datum.o", "value": "#111111"}, "value": "#e6e6e6"}}}
       ]}
    ], "spacing": 0},
    {"width": 2, "height": 138, "view": {"fill": "#1c1c1c", "stroke": null}, "data": {"name": "blank"}, "mark": {"type": "text", "fontSize": 1}, "encoding": {"text": {"field": "s"}}},
    {"vconcat": [
      {"width": 202, "height": 5, "view": {"fill": "#1c1c1c", "stroke": null},
       "title": {"text": "USDJPY, H4   ×", "orient": "bottom", "anchor": "start", "frame": "group", "offset": -4.5, "baseline": "top", "fontSize": 3, "color": "#cfcfcf", "dx": 2},
       "data": {"name": "blank"}, "mark": {"type": "text", "fontSize": 1}, "encoding": {"text": {"field": "s"}}},
      {"width": 202, "height": 133, "view": {"fill": "#d9d9d9", "stroke": null},
       "title": {"text": "■ USDJPY · 4 Hours", "orient": "top", "anchor": "start", "frame": "group", "offset": -6, "fontSize": 2.6, "color": "#333333", "dx": 3},
       "layer": [
        {"data": {"name": "v4"}, "mark": {"type": "rule", "strokeWidth": 0.8},
         "encoding": {"x": {"field": "t", "type": "quantitative", "scale": {"domain": [-0.5, 49.5], "nice": false, "zero": false}, "axis": {"orient": "bottom", "title": null, "values": [0,5,10,15,20,25,30,35,40,45], "format": "d"}},
                      "color": {"field": "k", "type": "nominal", "scale": {"domain": ["fast","mid","slow","long","green","level","light","red","vdark","vlight","lime","plum"], "range": ["#ebe79b","#77735f","#8a3646","#4c42a3","#5fb25c","#a2a2a2","#c4c4c4","#d27a7a","#7c7c7c","#bcbcbc","#c9d68f","#6e2f6e"]}}}},
        {"data": {"name": "h4"}, "mark": {"type": "rule", "strokeWidth": 0.8},
         "encoding": {"x": {"field": "a", "type": "quantitative", "scale": {"domain": [-0.5, 49.5], "nice": false, "zero": false}, "axis": {"orient": "bottom", "title": null, "values": [0,5,10,15,20,25,30,35,40,45], "format": "d"}}, "x2": {"field": "b"},
                      "y": {"field": "p", "type": "quantitative", "scale": {"domain": [140.9, 154.2], "nice": false, "zero": false}, "axis": {"orient": "right", "offset": -8, "title": null, "tickCount": 16, "format": ".1f"}},
                      "color": {"field": "k", "type": "nominal", "scale": {"domain": ["fast","mid","slow","long","green","level","light","red","vdark","vlight","lime","plum"], "range": ["#ebe79b","#77735f","#8a3646","#4c42a3","#5fb25c","#a2a2a2","#c4c4c4","#d27a7a","#7c7c7c","#bcbcbc","#c9d68f","#6e2f6e"]}}}},
        {"data": {"name": "h4"}, "transform": [{"filter": "datum.lab"}], "mark": {"type": "text", "align": "right", "baseline": "bottom", "fontSize": 2.6, "color": "#333333"},
         "encoding": {"x": {"field": "b", "type": "quantitative", "scale": {"domain": [-0.5, 49.5], "nice": false, "zero": false}, "axis": {"orient": "bottom", "title": null, "values": [0,5,10,15,20,25,30,35,40,45], "format": "d"}},
                      "y": {"field": "p", "type": "quantitative", "scale": {"domain": [140.9, 154.2], "nice": false, "zero": false}, "axis": {"orient": "right", "offset": -8, "title": null, "tickCount": 16, "format": ".1f"}},
                      "text": {"field": "p", "type": "quantitative", "format": ".3f"}}},
        {"data": {"name": "m4"}, "mark": {"type": "line", "strokeWidth": 1, "clip": true},
         "encoding": {"x": {"field": "t", "type": "quantitative", "scale": {"domain": [-0.5, 49.5], "nice": false, "zero": false}, "axis": {"orient": "bottom", "title": null, "values": [0,5,10,15,20,25,30,35,40,45], "format": "d"}},
                      "y": {"field": "p", "type": "quantitative", "scale": {"domain": [140.9, 154.2], "nice": false, "zero": false}, "axis": {"orient": "right", "offset": -8, "title": null, "tickCount": 16, "format": ".1f"}},
                      "color": {"field": "ma", "type": "nominal", "scale": {"domain": ["fast","mid","slow","long","green","level","light","red","vdark","vlight","lime","plum"], "range": ["#ebe79b","#77735f","#8a3646","#4c42a3","#5fb25c","#a2a2a2","#c4c4c4","#d27a7a","#7c7c7c","#bcbcbc","#c9d68f","#6e2f6e"]}}}},
        {"data": {"name": "c4"}, "mark": {"type": "rule", "color": "#111111", "strokeWidth": 0.7},
         "encoding": {"x": {"field": "t", "type": "quantitative", "scale": {"domain": [-0.5, 49.5], "nice": false, "zero": false}, "axis": {"orient": "bottom", "title": null, "values": [0,5,10,15,20,25,30,35,40,45], "format": "d"}},
                      "y": {"field": "l", "type": "quantitative", "scale": {"domain": [140.9, 154.2], "nice": false, "zero": false}, "axis": {"orient": "right", "offset": -8, "title": null, "tickCount": 16, "format": ".1f"}}, "y2": {"field": "h"}}},
        {"data": {"name": "c4"}, "mark": {"type": "bar", "width": 2, "stroke": "#111111", "strokeWidth": 0.6},
         "encoding": {"x": {"field": "t", "type": "quantitative", "scale": {"domain": [-0.5, 49.5], "nice": false, "zero": false}, "axis": {"orient": "bottom", "title": null, "values": [0,5,10,15,20,25,30,35,40,45], "format": "d"}},
                      "y": {"field": "o", "type": "quantitative", "scale": {"domain": [140.9, 154.2], "nice": false, "zero": false}, "axis": {"orient": "right", "offset": -8, "title": null, "tickCount": 16, "format": ".1f"}}, "y2": {"field": "c"},
                      "fill": {"condition": {"test": "datum.c < datum.o", "value": "#111111"}, "value": "#e6e6e6"}}}
       ]}
    ], "spacing": 0},
    {"width": 2, "height": 138, "view": {"fill": "#1c1c1c", "stroke": null}, "data": {"name": "blank"}, "mark": {"type": "text", "fontSize": 1}, "encoding": {"text": {"field": "s"}}}
  ], "spacing": 0},
  {"width": 609, "height": 11, "view": {"fill": "#1c1c1c", "stroke": null},
   "title": {"text": "◧ Watchlist   ▤ Positions   ◫ Orders   ◨ History   ▪ ▪ ▪ ▪ ▪  Account balance and margin summary", "orient": "bottom", "anchor": "start", "frame": "group", "offset": -9, "baseline": "top", "fontSize": 3, "color": "#a8a8a8", "dx": 3},
   "data": {"name": "blank"}, "mark": {"type": "text", "fontSize": 1}, "encoding": {"text": {"field": "s"}}}
]
}
